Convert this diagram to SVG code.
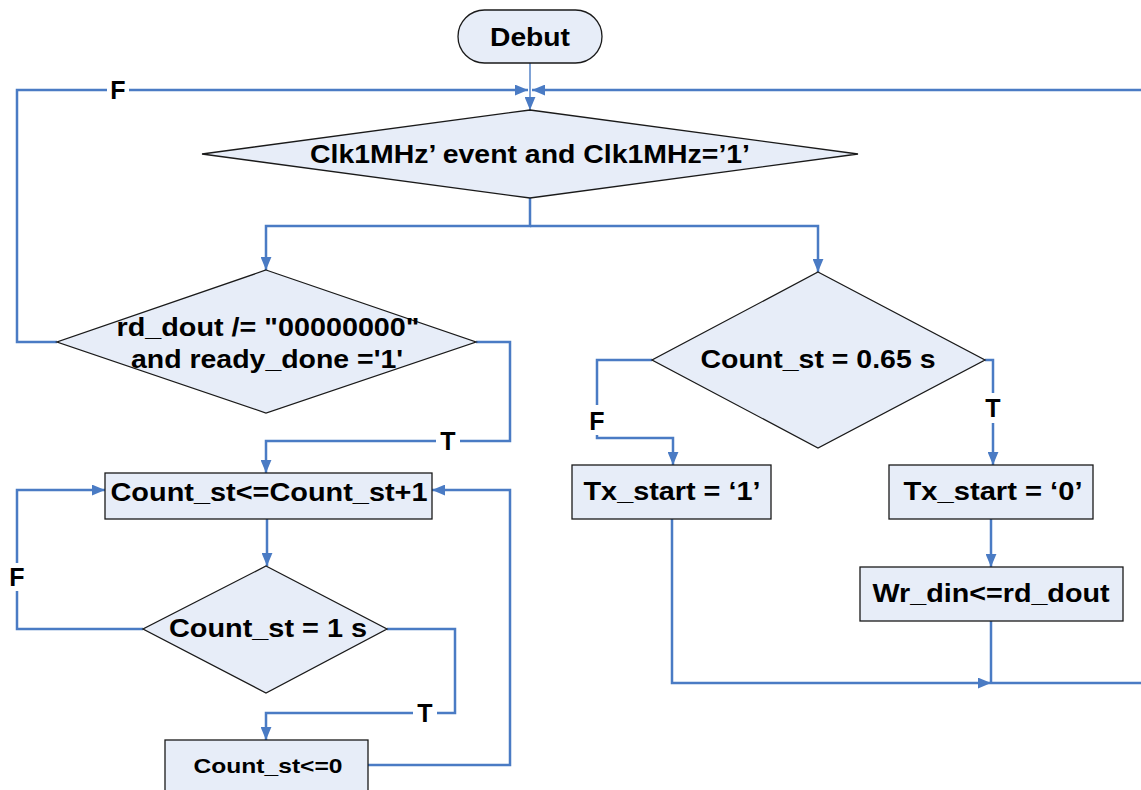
<svg xmlns="http://www.w3.org/2000/svg" width="1141" height="790" viewBox="0 0 1141 790">
<defs>
<style>
.shape{fill:#e7edf8;stroke:#1a1a1a;stroke-width:1.3}
.t{font-family:"Liberation Sans",Arial,sans-serif;font-weight:bold;fill:#000;text-anchor:middle}
.c{fill:none;stroke:#4a7bc4;stroke-width:2.5}
.thin{stroke-width:1.4}
.lbl{font-family:"Liberation Sans",Arial,sans-serif;font-weight:bold;font-size:25px;fill:#000;text-anchor:middle}
</style>
<marker id="ar" viewBox="0 0 12 10" refX="12" refY="5" markerWidth="13" markerHeight="11" markerUnits="userSpaceOnUse" orient="auto">
<path d="M0,0 L12,5 L0,10 Z" fill="#4a7bc4"/>
</marker>
</defs>
<rect width="1141" height="790" fill="#fff"/>
<g id="connectors">
<path class="c thin" d="M530,63 V110" marker-end="url(#ar)"/>
<path class="c" d="M57,342 H17 V90 H528" marker-end="url(#ar)"/>
<path class="c" d="M991,683 H1146 V90 H532" marker-end="url(#ar)"/>
<path class="c" d="M530,198 V226 H266 V270" marker-end="url(#ar)"/>
<path class="c" d="M530,226 H818 V272" marker-end="url(#ar)"/>
<path class="c" d="M476,342 H510 V441 H266 V473" marker-end="url(#ar)"/>
<path class="c" d="M267,519 V566" marker-end="url(#ar)"/>
<path class="c" d="M143,629 H17 V490 H105" marker-end="url(#ar)"/>
<path class="c" d="M387,629 H455 V713 H266 V740" marker-end="url(#ar)"/>
<path class="c" d="M368,765 H510 V490 H432" marker-end="url(#ar)"/>
<path class="c" d="M652,360 H597 V438 H673 V465" marker-end="url(#ar)"/>
<path class="c" d="M985,360 H993 V465" marker-end="url(#ar)"/>
<path class="c" d="M991,519 V567" marker-end="url(#ar)"/>
<path class="c" d="M991,621 V683"/>
<path class="c" d="M672,519 V683 H991" marker-end="url(#ar)"/>
<g id="labels">
<rect x="107" y="76" width="22" height="28" fill="#fff"/>
<text class="lbl" x="118" y="99">F</text>
<rect x="436" y="427" width="24" height="28" fill="#fff"/>
<text class="lbl" x="448" y="450">T</text>
<rect x="6" y="563" width="22" height="28" fill="#fff"/>
<text class="lbl" x="17" y="586">F</text>
<rect x="413" y="699" width="24" height="28" fill="#fff"/>
<text class="lbl" x="425" y="722">T</text>
<rect x="586" y="405" width="22" height="30" fill="#fff"/>
<text class="lbl" x="597" y="430">F</text>
<rect x="981" y="393" width="24" height="30" fill="#fff"/>
<text class="lbl" x="993" y="417">T</text>
</g>
</g>
<g id="debut">
<rect class="shape" x="458" y="10" width="144" height="53" rx="26.5"/>
<text class="t" x="530" y="46" font-size="25" textLength="80" lengthAdjust="spacingAndGlyphs">Debut</text>
</g>
<g id="clk">
<polygon class="shape" points="530,110 858,154 530,198 202,154"/>
<text class="t" x="530" y="163" font-size="25" textLength="440" lengthAdjust="spacingAndGlyphs">Clk1MHz’ event and Clk1MHz=’1’</text>
</g>
<g id="rd">
<polygon class="shape" points="266,270 476,342 266,413 57,342"/>
<text class="t" x="268" y="336" font-size="25" textLength="303" lengthAdjust="spacingAndGlyphs">rd_dout /= "00000000"</text>
<text class="t" x="267" y="368" font-size="25" textLength="272" lengthAdjust="spacingAndGlyphs">and ready_done ='1'</text>
</g>
<g id="inc">
<rect class="shape" x="105" y="473" width="327" height="46"/>
<text class="t" x="269" y="501" font-size="25" textLength="317" lengthAdjust="spacingAndGlyphs">Count_st&lt;=Count_st+1</text>
</g>
<g id="cmp1">
<polygon class="shape" points="266,566 387,629 266,693 143,629"/>
<text class="t" x="268" y="637" font-size="25" textLength="198" lengthAdjust="spacingAndGlyphs">Count_st = 1 s</text>
</g>
<g id="reset">
<rect class="shape" x="165" y="740" width="203" height="60"/>
<text class="t" x="268" y="773" font-size="21" textLength="149" lengthAdjust="spacingAndGlyphs">Count_st&lt;=0</text>
</g>
<g id="cmp065">
<polygon class="shape" points="818,272 985,360 818,448 652,360"/>
<text class="t" x="818" y="368" font-size="25" textLength="235" lengthAdjust="spacingAndGlyphs">Count_st = 0.65 s</text>
</g>
<g id="tx1">
<rect class="shape" x="572" y="465" width="199" height="54"/>
<text class="t" x="672" y="500" font-size="25" textLength="177" lengthAdjust="spacingAndGlyphs">Tx_start = ‘1’</text>
</g>
<g id="tx0">
<rect class="shape" x="889" y="465" width="204" height="54"/>
<text class="t" x="993" y="500" font-size="25" textLength="179" lengthAdjust="spacingAndGlyphs">Tx_start = ‘0’</text>
</g>
<g id="wr">
<rect class="shape" x="860" y="567" width="263" height="54"/>
<text class="t" x="991" y="602" font-size="25" textLength="237" lengthAdjust="spacingAndGlyphs">Wr_din&lt;=rd_dout</text>
</g>
</svg>
